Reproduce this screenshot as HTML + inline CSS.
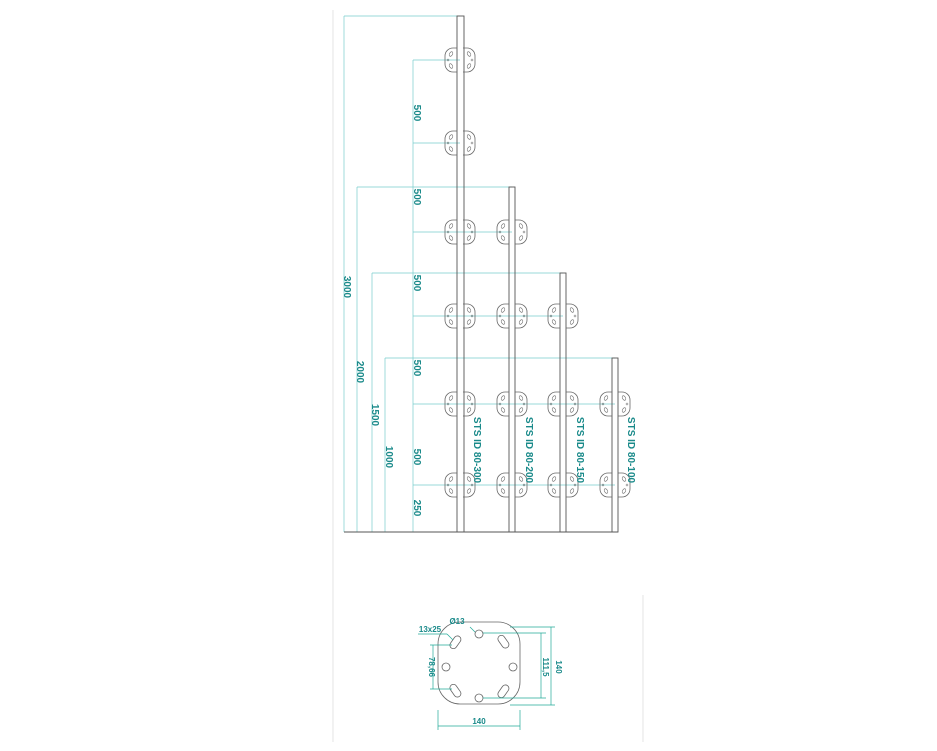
<!DOCTYPE html><html><head><style>body{margin:0;background:#fff}svg{display:block}text{font-family:"Liberation Sans",sans-serif;fill:#1a8a8a;font-weight:bold}</style></head><body>
<svg width="937" height="751" viewBox="0 0 937 751">
<defs>
<g id="pl"><path d="M-3,-12 h-4 a8,8 0 0 0 -8,8 v8 a8,8 0 0 0 8,8 h4 M3,-12 h4 a8,8 0 0 1 8,8 v8 a8,8 0 0 1 -8,8 h-4" fill="none" stroke="#666" stroke-width="0.8"/>
<ellipse cx="-9" cy="-6" rx="1.5" ry="2.5" transform="rotate(30 -9 -6)" fill="none" stroke="#666" stroke-width="0.6"/><ellipse cx="9" cy="-6" rx="1.5" ry="2.5" transform="rotate(-30 9 -6)" fill="none" stroke="#666" stroke-width="0.6"/><ellipse cx="-9" cy="6" rx="1.5" ry="2.5" transform="rotate(-30 -9 6)" fill="none" stroke="#666" stroke-width="0.6"/><ellipse cx="9" cy="6" rx="1.5" ry="2.5" transform="rotate(30 9 6)" fill="none" stroke="#666" stroke-width="0.6"/><circle cx="-12" cy="0" r="1" fill="none" stroke="#666" stroke-width="0.5"/><circle cx="12" cy="0" r="1" fill="none" stroke="#666" stroke-width="0.5"/></g>
</defs>
<g stroke="#ddd" stroke-width="0.8"><line x1="333" y1="10" x2="333" y2="742"/><line x1="643" y1="595" x2="643" y2="742"/></g>
<g stroke="#7cc" stroke-width="0.7" fill="none">
<line x1="344" y1="16" x2="344" y2="532"/><line x1="357" y1="187" x2="357" y2="532"/><line x1="372" y1="273" x2="372" y2="532"/><line x1="385" y1="358" x2="385" y2="532"/><line x1="413" y1="60" x2="413" y2="532"/>
<line x1="344" y1="16" x2="460" y2="16"/><line x1="357" y1="187" x2="512" y2="187"/><line x1="372" y1="273" x2="563" y2="273"/><line x1="385" y1="358" x2="615" y2="358"/>
<line x1="413" y1="60" x2="460" y2="60"/><line x1="413" y1="143" x2="460" y2="143"/><line x1="413" y1="232" x2="512" y2="232"/><line x1="413" y1="316" x2="563" y2="316"/><line x1="413" y1="404" x2="615" y2="404"/><line x1="413" y1="485" x2="615" y2="485"/>
</g>
<g stroke="#555" stroke-width="0.9" fill="none">
<rect x="457" y="16" width="7" height="516"/><rect x="509" y="187" width="6" height="345"/><rect x="560" y="273" width="6" height="259"/><rect x="612" y="358" width="6" height="174"/>
<line x1="344" y1="532" x2="618" y2="532"/>
</g>
<use href="#pl" x="460" y="60"/><use href="#pl" x="460" y="143"/><use href="#pl" x="460" y="232"/><use href="#pl" x="512" y="232"/>
<use href="#pl" x="460" y="316"/><use href="#pl" x="512" y="316"/><use href="#pl" x="563" y="316"/>
<use href="#pl" x="460" y="404"/><use href="#pl" x="512" y="404"/><use href="#pl" x="563" y="404"/><use href="#pl" x="615" y="404"/>
<use href="#pl" x="460" y="485"/><use href="#pl" x="512" y="485"/><use href="#pl" x="563" y="485"/><use href="#pl" x="615" y="485"/>
<g font-size="10" text-anchor="middle">
<text transform="translate(344,287) rotate(90)">3000</text>
<text transform="translate(357,372) rotate(90)">2000</text>
<text transform="translate(372,415) rotate(90)">1500</text>
<text transform="translate(386,457) rotate(90)">1000</text>
<text transform="translate(414,113) rotate(90)">500</text>
<text transform="translate(414,197) rotate(90)">500</text>
<text transform="translate(414,283) rotate(90)">500</text>
<text transform="translate(414,368) rotate(90)">500</text>
<text transform="translate(414,457) rotate(90)">500</text>
<text transform="translate(414,508) rotate(90)">250</text>
<text transform="translate(474,450) rotate(90)">STS ID 80-300</text>
<text transform="translate(526,450) rotate(90)">STS ID 80-200</text>
<text transform="translate(577,450) rotate(90)">STS ID 80-150</text>
<text transform="translate(628,450) rotate(90)">STS ID 80-100</text>
</g>
<g stroke="#666" stroke-width="0.8" fill="none">
<path d="M460,622 h38 a22,22 0 0 1 22,22 v38 a22,22 0 0 1 -22,22 h-38 a22,22 0 0 1 -22,-22 v-38 a22,22 0 0 1 22,-22z"/>
<circle cx="479" cy="634" r="4"/><circle cx="479" cy="698" r="4"/><circle cx="446" cy="667" r="4"/><circle cx="513" cy="667" r="4"/>
<rect x="452" y="635" width="7" height="14" rx="3.5" transform="rotate(35 455 642)"/>
<rect x="500" y="635" width="7" height="14" rx="3.5" transform="rotate(-35 503 642)"/>
<rect x="452" y="684" width="7" height="14" rx="3.5" transform="rotate(-35 455 691)"/>
<rect x="500" y="684" width="7" height="14" rx="3.5" transform="rotate(35 503 691)"/>
</g>
<g stroke="#2a9" stroke-width="0.7" fill="none">
<line x1="483" y1="633" x2="546" y2="633"/><line x1="483" y1="698" x2="546" y2="698"/><line x1="510" y1="627" x2="555" y2="627"/><line x1="510" y1="705" x2="555" y2="705"/>
<line x1="541" y1="633" x2="541" y2="698"/><line x1="551" y1="627" x2="551" y2="705"/>
<line x1="438" y1="710" x2="438" y2="730"/><line x1="520" y1="710" x2="520" y2="730"/><line x1="438" y1="726" x2="520" y2="726"/>
<line x1="430" y1="645" x2="452" y2="645"/><line x1="430" y1="689" x2="452" y2="689"/><line x1="433" y1="645" x2="433" y2="689"/>
<line x1="418" y1="634" x2="447" y2="634"/><line x1="447" y1="634" x2="453" y2="640"/><line x1="470" y1="627" x2="475" y2="632"/>
</g>
<g font-size="8" text-anchor="middle">
<text x="457" y="624">Ø13</text><text x="430" y="632">13x25</text><text x="479" y="724">140</text>
<text transform="translate(429,667) rotate(90)">78,66</text>
<text transform="translate(543,667) rotate(90)">111,5</text>
<text transform="translate(556,667) rotate(90)">140</text>
</g>
</svg></body></html>
